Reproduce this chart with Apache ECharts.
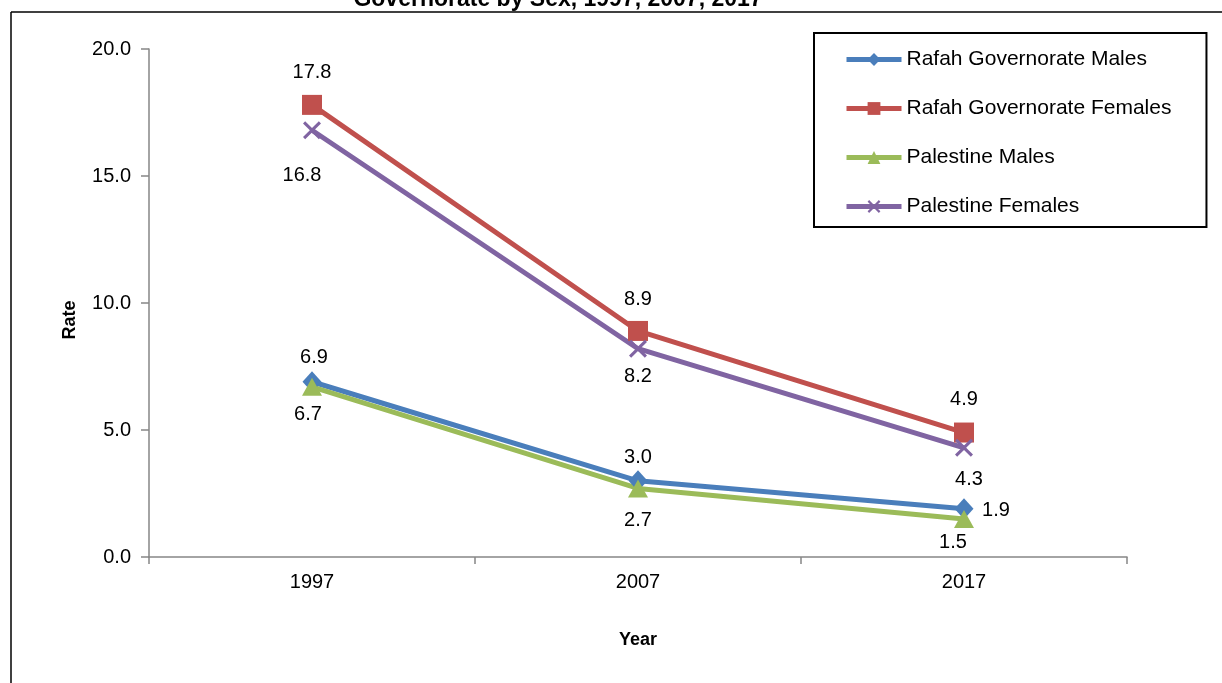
<!DOCTYPE html>
<html>
<head>
<meta charset="utf-8">
<script src="https://cdn.jsdelivr.net/npm/echarts@6/dist/echarts.min.js"></script>
<style>
html,body{margin:0;padding:0;background:#fff;}
#c{width:1222px;height:683px;}
</style>
</head>
<body>
<div id="c"></div>
<script>
var categories = ['1997', '2007', '2017'];
var seriesNames = ['Rafah Governorate Males', 'Rafah Governorate Females', 'Palestine Males', 'Palestine Females'];
var rafahMales = [6.9, 3.0, 1.9];
var rafahFemales = [17.8, 8.9, 4.9];
var palestineMales = [6.7, 2.7, 1.5];
var palestineFemales = [16.8, 8.2, 4.3];
var yTicks = [0, 5, 10, 15, 20];
var titleText = 'Governorate by Sex, 1997, 2007, 2017';

var FONT = '"Liberation Sans", Arial, sans-serif';
var colors = ['#4A7EBB', '#C0504D', '#9BBB59', '#8064A2'];
var symbols = ['diamond', 'rect', 'triangle',
  'path://M0,1.2 L1.2,0 L5,3.8 L8.8,0 L10,1.2 L6.2,5 L10,8.8 L8.8,10 L5,6.2 L1.2,10 L0,8.8 L3.8,5 Z'];
var symbolSizes = [[19, 21], 20, [20, 18], 18];
var labelOffsets = [
  [[2, -24], [0, -23], [32, 2]],
  [[0, -32], [0, -31], [0, -33]],
  [[-4, 28], [0, 32], [-11, 24]],
  [[-10, 45], [0, 28], [5, 32]]
];
var values = [rafahMales, rafahFemales, palestineMales, palestineFemales];

var series = values.map(function (vals, si) {
  return {
    name: seriesNames[si],
    type: 'line',
    data: vals.map(function (v, i) {
      return {
        value: v,
        label: { offset: labelOffsets[si][i] }
      };
    }),
    symbol: symbols[si],
    symbolSize: symbolSizes[si],
    showAllSymbol: true,
    lineStyle: { color: colors[si], width: 5 },
    itemStyle: { color: colors[si] },
    emphasis: { disabled: true },
    animation: false,
    label: {
      show: true,
      position: 'inside',
      formatter: function (p) { return p.value.toFixed(1); },
      color: '#000',
      fontFamily: FONT,
      fontSize: 20
    }
  };
});

var chart = echarts.init(document.getElementById('c'), null, { renderer: 'canvas' });
chart.setOption({
  backgroundColor: '#fff',
  animation: false,
  color: colors,
  grid: { left: 149, right: 95, top: 49, bottom: 126, containLabel: false },
  graphic: [
    { type: 'line', shape: { x1: 11, y1: 12, x2: 1222, y2: 12 }, style: { stroke: '#000', lineWidth: 1.5 } },
    { type: 'line', shape: { x1: 11, y1: 12, x2: 11, y2: 683 }, style: { stroke: '#000', lineWidth: 1.5 } },
    { type: 'text', x: 558, y: 11, style: { text: titleText, textAlign: 'center', textVerticalAlign: 'bottom', font: 'bold 23px ' + FONT, fill: '#000' } }
  ],
  legend: {
    orient: 'vertical',
    left: 814,
    top: 33,
    padding: [16, 35, 10, 30],
    itemWidth: 55,
    itemHeight: 16,
    itemGap: 28,
    borderColor: '#000',
    borderWidth: 2,
    backgroundColor: '#fff',
    lineStyle: { width: 5 },
    textStyle: { fontFamily: FONT, fontSize: 21, color: '#000' },
    data: seriesNames
  },
  xAxis: {
    type: 'category',
    data: categories,
    boundaryGap: true,
    name: 'Year',
    nameLocation: 'middle',
    nameGap: 74,
    nameTextStyle: { fontFamily: FONT, fontSize: 18, fontWeight: 'bold', color: '#000' },
    axisLine: { show: true, lineStyle: { color: '#868686', width: 1.5 } },
    axisTick: { show: true, alignWithLabel: false, length: 7, lineStyle: { color: '#868686', width: 1.5 } },
    axisLabel: { margin: 15, fontFamily: FONT, fontSize: 20, color: '#000' },
    splitLine: { show: false }
  },
  yAxis: {
    type: 'value',
    min: yTicks[0],
    max: yTicks[yTicks.length - 1],
    interval: yTicks[1] - yTicks[0],
    name: 'Rate',
    nameLocation: 'middle',
    nameGap: 70,
    nameTextStyle: { fontFamily: FONT, fontSize: 18, fontWeight: 'bold', color: '#000', padding: [0, 34, 0, 0] },
    axisLine: { show: true, lineStyle: { color: '#868686', width: 1.5 } },
    axisTick: { show: true, length: 8, lineStyle: { color: '#868686', width: 1.5 } },
    axisLabel: { margin: 18, fontFamily: FONT, fontSize: 20, color: '#000', formatter: function (v) { return v.toFixed(1); } },
    splitLine: { show: false }
  },
  series: series
});
</script>
</body>
</html>
